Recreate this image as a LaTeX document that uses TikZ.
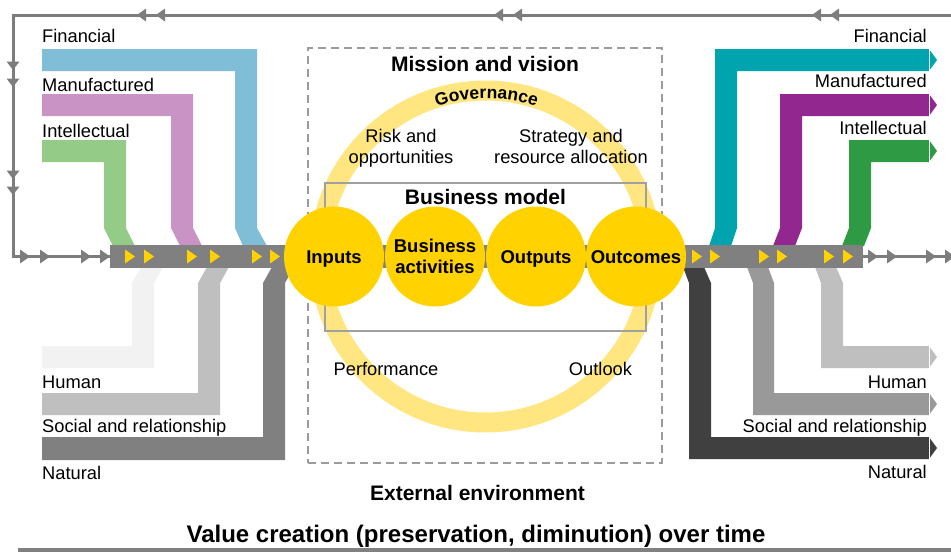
\documentclass[tikz,border=0pt]{standalone}
\usepackage{fontspec}
\setmainfont{Liberation Sans}
\usetikzlibrary{decorations.text}
\definecolor{ylw}{RGB}{255,210,0}
\definecolor{ringc}{RGB}{255,230,128}
\definecolor{barg}{RGB}{128,128,128}
\definecolor{lineg}{RGB}{125,125,125}
\definecolor{dashg}{RGB}{155,155,155}
\definecolor{bmg}{RGB}{160,160,160}
\definecolor{lf}{RGB}{127,190,214}
\definecolor{lm}{RGB}{201,147,198}
\definecolor{li}{RGB}{148,203,135}
\definecolor{lh}{RGB}{242,242,242}
\definecolor{ls}{RGB}{191,191,191}
\definecolor{ln}{RGB}{128,128,128}
\definecolor{rf}{RGB}{0,164,174}
\definecolor{rm}{RGB}{146,39,143}
\definecolor{ri}{RGB}{46,154,68}
\definecolor{rh}{RGB}{191,191,191}
\definecolor{rs}{RGB}{153,153,153}
\definecolor{rn}{RGB}{64,64,64}
\newcommand\govfont{\fontsize{17.5}{17.5}\selectfont\bfseries}
\tikzset{
  pics/ar/.style={code={\fill (-10,-7) -- (0,0) -- (-10,7) -- cycle;}},
  pics/al/.style={code={\fill (9,-6.5) -- (0,0) -- (9,6.5) -- cycle;}},
  pics/ad/.style={code={\fill (-6.5,-8.5) -- (0,0) -- (6.5,-8.5) -- cycle;}},
}
\begin{document}
\begin{tikzpicture}[x=1pt,y=-1pt,
  lbl/.style={font=\fontsize{18.3}{21}\selectfont, inner sep=0pt},
  ttl/.style={font=\fontsize{21}{25}\selectfont\bfseries, inner sep=0pt},
  capc/.style={circle, fill=ylw, minimum size=100, inner sep=0pt,
     font=\fontsize{18.5}{21.5}\selectfont\bfseries, align=center},
  onel/.style={text height=13, text depth=0},
  fb/.style={draw=lineg, line width=3},
  sep/.style={white, line width=0.8}]
\useasboundingbox (0,0) rectangle (951,557);

% external environment (dashed) and governance ring
\node[draw=dashg, line width=2.2, dash pattern=on 8 off 5, minimum width=354, minimum height=415, inner sep=0] (env) at (485,255.5) {};
\node[circle, draw=ringc, line width=20, minimum size=332, inner sep=0] (gov) at (485.5,256.5) {};
\node[draw=bmg, line width=2, minimum width=321, minimum height=148, inner sep=0] (bm) at (485.5,257) {};

% left capitals (inputs)
\fill[lf] (42,49) -- (257,49) -- (257,228) -- (267,246) -- (243,246) -- (235,228) -- (235,71) -- (42,71) -- cycle;
\fill[lm] (42,94) -- (193,94) -- (193,228) -- (202,246) -- (180,246) -- (171,228) -- (171,116) -- (42,116) -- cycle;
\fill[li] (42,140) -- (126,140) -- (126,228) -- (135,246) -- (113,246) -- (104,228) -- (104,162) -- (42,162) -- cycle;
\fill[lh] (141,267) -- (163,267) -- (154,283) -- (154,368) -- (42,368) -- (42,346) -- (132,346) -- (132,283) -- cycle;
\fill[ls] (207,267) -- (229,267) -- (220,283) -- (220,415) -- (42,415) -- (42,393) -- (198,393) -- (198,283) -- cycle;
\fill[ln] (272,267) -- (294,267) -- (285,283) -- (285,460) -- (42,460) -- (42,437) -- (263,437) -- (263,283) -- cycle;

% right capitals (outcomes)
\fill[rf] (709,246) -- (715,228) -- (715,49) -- (929,49) -- (937,60) -- (929,71) -- (737,71) -- (737,228) -- (731,246) -- cycle;
\fill[rm] (773,246) -- (780,228) -- (780,94) -- (929,94) -- (937,105) -- (929,116) -- (802,116) -- (802,228) -- (795,246) -- cycle;
\fill[ri] (842,246) -- (849,228) -- (849,140) -- (929,140) -- (937,151) -- (929,162) -- (871,162) -- (871,228) -- (864,246) -- cycle;
\fill[rn] (683,267) -- (704,267) -- (711,283) -- (711,437) -- (929,437) -- (937,448) -- (929,459) -- (689,459) -- (689,283) -- cycle;
\fill[rs] (747,267) -- (768,267) -- (774,283) -- (774,393) -- (929,393) -- (937,404) -- (929,415) -- (753,415) -- (753,283) -- cycle;
\fill[rh] (815,267) -- (836,267) -- (843,283) -- (843,346) -- (929,346) -- (937,357) -- (929,368) -- (821,368) -- (821,283) -- cycle;
\foreach \ya/\yb in {49/71,94/116,140/162,346/368,393/415,437/459}
  \draw[sep] (929,\ya) -- (929,\yb);

% main bar
\node[fill=barg, minimum width=753, minimum height=23, inner sep=0, anchor=west] (bar) at (110,256.5) {};

% feedback loop
\coordinate (fbR) at (951,15);
\coordinate (fbTL) at (13,15);
\coordinate (fbBL) at (13,256.5);
\coordinate (fbEnd) at (951,256.5);
\draw[fb] (fbR) -- (fbTL) -- (fbBL) -- (bar.west);
\draw[fb] (bar.east) -- (fbEnd);
\foreach \x in {137,156,494,513,812,830} \pic[fill=lineg] at (\x,15) {al};
\foreach \y in {70,87,179,195} \pic[fill=lineg] at (13,\y) {ad};
\foreach \x in {30,50,91,110,878,897,936,955} \pic[fill=lineg] at (\x,256.5) {ar};

% yellow arrows on bar
\foreach \x in {135,154,197,220,262,280,702,720,769,787,834,853}
  \pic[fill=ylw] at (\x,256.5) {ar};

% business model circles
\node[capc, onel] (inputs) at (334,256.5) {Inputs};
\node[capc] (activ) at (435,256.5) {Business\\activities};
\node[capc, onel] (outputs) at (536,256.5) {Outputs};
\node[capc, onel] (outcomes) at (636,256.5) {Outcomes};

% texts
\node[ttl, anchor=base] (mission) at (485,71) {Mission and vision};
\path[decorate, decoration={text along path, text={|\govfont|Governance}, text align=center}]
  (486.5,256.5) ++(-120:158) arc[start angle=-120, end angle=-60, radius=158];
\node[lbl, align=center] (risk) at (401,148) {Risk and\\opportunities};
\node[lbl, align=center] (strat) at (571,146) {Strategy and\\resource allocation};
\node[ttl, anchor=base] (bmodel) at (485.5,204) {Business model};
\node[lbl, anchor=base] (perf) at (386,375) {Performance};
\node[lbl, anchor=base] (outlook) at (600.5,375) {Outlook};
\node[ttl, anchor=base] (extenv) at (477.5,500) {External environment};
\node[font=\fontsize{24}{28}\selectfont\bfseries, inner sep=0, anchor=base] (valuec) at (476,542) {Value creation (preservation, diminution) over time};
\coordinate (blL) at (18,550);
\coordinate (blR) at (951,550);
\draw[line width=4.5, color=barg] (blL) -- (blR);

% capital labels
\node[lbl, anchor=base west] (lF) at (42,42) {Financial};
\node[lbl, anchor=base west] (lM) at (42,91) {Manufactured};
\node[lbl, anchor=base west] (lI) at (42,137) {Intellectual};
\node[lbl, anchor=base west] (lH) at (42,388) {Human};
\node[lbl, anchor=base west] (lS) at (42,432) {Social and relationship};
\node[lbl, anchor=base west] (lN) at (42,479) {Natural};
\node[lbl, anchor=base east] (rF) at (927,42) {Financial};
\node[lbl, anchor=base east] (rM) at (927,87) {Manufactured};
\node[lbl, anchor=base east] (rI) at (927,134) {Intellectual};
\node[lbl, anchor=base east] (rH) at (927,388) {Human};
\node[lbl, anchor=base east] (rS) at (927,432) {Social and relationship};
\node[lbl, anchor=base east] (rN) at (927,478) {Natural};
\end{tikzpicture}
\end{document}
